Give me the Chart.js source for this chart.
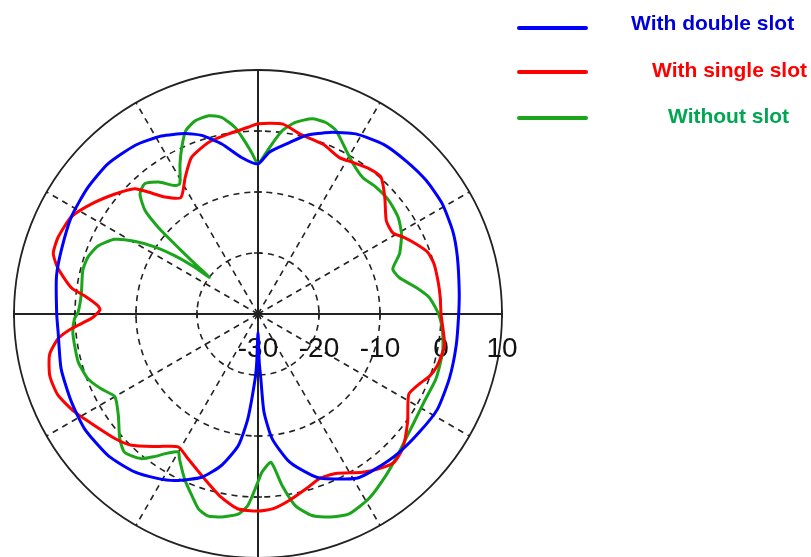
<!DOCTYPE html>
<html>
<head>
<meta charset="utf-8">
<script src="https://cdn.jsdelivr.net/npm/chart.js@4.4.1/dist/chart.umd.min.js"></script>
<style>
  html, body { margin: 0; padding: 0; background: #fff; overflow: hidden; }
  #wrap { position: absolute; left: 0; top: 0; width: 811px; height: 600px; }
  .key-line { position: absolute; left: 517px; width: 71px; height: 4px; border-radius: 2px; }
  .key-text { position: absolute; font: bold 21px "Liberation Sans", Arial, sans-serif; line-height: 21px; white-space: nowrap; }
</style>
</head>
<body>
<div id="wrap"><canvas id="pattern"></canvas></div>
<div id="legend"></div>
<script>
// radiation pattern, [angle in degrees clockwise from top, gain in dB]
var doubleSlot = [
  [0, -5.4], [4, -3.4], [10.5, -1.4], [15, 0.3], [21.5, 2.0], [28.5, 3.6], [36.5, 4.6],
  [44, 4.9], [51.5, 5.2], [59, 5.2], [67, 4.7], [74, 4.0], [83.5, 3.2], [90, 2.9],
  [99, 2.9], [108.5, 3.1], [118, 3.3], [126, 2.8], [134.5, 2.4], [142.5, 1.9], [149, 1.4],
  [158.5, -1.0], [161.5, -2.1], [168, -5.2], [173.5, -9.4], [176.5, -13.9], [177.5, -19.4],
  [178.5, -22.1], [180, -27], [181.5, -22.1], [182.5, -19.4], [185.5, -12.8], [188.5, -8.2],
  [193.5, -4.5], [199, -1.7], [206.5, 0.5], [211.5, 1.6], [218, 2.85], [226.5, 3.8],
  [236.5, 4.1], [245, 3.8], [254.5, 3.5], [265, 2.9], [270, 3.0], [280.5, 3.6], [288, 3.9],
  [297.5, 4.5], [306.5, 4.75], [315, 4.8], [324, 4.2], [331.5, 3.2], [338, 1.9],
  [342.5, 0.7], [348, -1.5], [354, -4.2]
];
var singleSlot = [
  [0, 1.2], [7.5, 1.4], [13, 0.3], [21, -0.2], [27.5, -1.1], [32, -0.7], [37.5, 0.0],
  [42, 0.15], [47.5, -1.8], [54, -4.0], [59, -4.2], [62, -3.1], [66, -1.7], [70, -0.4],
  [74, 0.0], [80, 0.0], [85, 0.0], [90, 0.0], [99.5, 1.0], [106, 0.6], [110, -0.1],
  [113.5, -1.2], [118, -2.0], [126, 0.3], [133, 2.4], [137.5, 3.0], [141, 2.4],
  [146.5, 1.1], [154, -0.9], [159.5, -1.2], [164.5, -0.3], [170.5, 1.0], [175.5, 2.0],
  [180, 2.3], [186, 2.1], [191.5, 0.6], [198, -1.6], [206, -3.7], [211, -4.6], [217, -2.8],
  [224, -0.1], [229, 1.1], [235.5, 2.4], [242, 4.1], [248, 5.4], [253.5, 5.6], [259, 4.8],
  [263, 3.0], [265.5, 0.7], [268.5, -2.7], [271.5, -4.1], [273, -3.7], [276, -1.4],
  [278, 0.9], [283, 3.7], [286.5, 5.0], [291, 5.1], [297.5, 4.5], [303.5, 2.7], [310, 0.6],
  [315.5, -1.2], [318, -3.1], [321.5, -5.5], [326.5, -7.1], [332, -4.6], [337, -2.1],
  [344, -0.7], [350.5, -0.1], [357, 0.65]
];
var noSlot = [
  [0, -5.4], [4, -2.6], [7.5, 0.3], [11, 2.0], [15.5, 3.2], [19.5, 3.3], [23, 2.7],
  [28.5, 0.4], [32.5, -0.9], [37.5, -1.8], [43, -1.6], [49, -1.6], [55.5, -2.1], [61, -3.1],
  [67, -4.8], [71.5, -6.7], [75.5, -6.1], [80.5, -3.7], [84.5, -1.8], [90, -0.4],
  [95.5, 0.4], [101.5, 0.9], [110, 1.05], [117, 0.8], [125.5, 1.2], [134.5, 2.4],
  [141.5, 3.75], [149, 5.3], [155.5, 6.0], [160.5, 5.3], [165, 4.2], [169, 2.0],
  [172, -1.6], [175, -5.6], [178.5, -4.1], [180, -2.5], [183, 1.4], [185.5, 2.9], [190, 3.8],
  [194, 4.1], [197, 3.4], [200, 1.7], [204, -0.4], [208.5, -3.0], [210, -3.9], [213, -2.8],
  [216, -1.1], [219, 0.5], [224, 1.5], [228, 0.5], [234, -1.7], [240, -2.9], [244.5, -1.5],
  [249, -0.2], [255, 0.5], [260.5, 0.5], [264.5, 0.5], [268.5, 0.1], [270.5, -0.5],
  [276.5, -0.85], [284, -0.4], [288.5, -0.6], [293, -1.5], [297.5, -3.5], [300.5, -6.5],
  [303, -9.8], [305, -13.3], [306.5, -17.1], [307, -20.0], [308.5, -16.8], [310, -12.2],
  [311, -8.3], [312.5, -4.9], [315.5, -2.4], [319, -1.7], [323, -2.9], [327, -4.9],
  [329, -5.1], [332.5, -2.3], [335.5, 0.1], [338.5, 2.3], [342, 3.3], [346, 3.5],
  [349.5, 2.8], [353, 0.8], [355.5, -1.5], [358, -3.75]
];

var seriesNames = ['With double slot', 'With single slot', 'Without slot'];
var lineColors = ['#0000ff', '#ff0000', '#1aa51a'];
var textColors = ['#0000d8', '#ff0000', '#00a651'];
var ringTicks = [-30, -20, -10, 0, 10];

var STEP = 0.5; // degrees per category
var nCat = 360 / STEP;
var angles = [];
for (var i = 0; i < nCat; i++) angles.push(i * STEP);

function toRadar(points) {
  var arr = new Array(nCat).fill(null);
  points.forEach(function(p) {
    arr[Math.round(p[0] / STEP) % nCat] = p[1];
  });
  return arr;
}

// tick labels and small axis ticks, drawn under the curves
var ringLabels = {
  id: 'ringLabels',
  beforeDatasetsDraw: function(chart) {
    var r = chart.scales.r, ctx = chart.ctx;
    ctx.save();
    ctx.strokeStyle = '#222';
    ctx.lineWidth = 1.5;
    ringTicks.forEach(function(v) {
      var d = r.getDistanceFromCenterForValue(v);
      if (d <= 0) return;
      ctx.beginPath();
      ctx.moveTo(r.xCenter + d, r.yCenter - 4); ctx.lineTo(r.xCenter + d, r.yCenter + 4);
      ctx.moveTo(r.xCenter - d, r.yCenter - 4); ctx.lineTo(r.xCenter - d, r.yCenter + 4);
      ctx.moveTo(r.xCenter - 4, r.yCenter + d); ctx.lineTo(r.xCenter + 4, r.yCenter + d);
      ctx.moveTo(r.xCenter - 4, r.yCenter - d); ctx.lineTo(r.xCenter + 4, r.yCenter - d);
      ctx.stroke();
    });
    ctx.fillStyle = '#111';
    ctx.font = '28px "Liberation Sans", Arial, sans-serif';
    ctx.textAlign = 'center';
    ctx.textBaseline = 'middle';
    ringTicks.forEach(function(v) {
      var d = r.getDistanceFromCenterForValue(v);
      ctx.fillText(String(v), r.xCenter + d, r.yCenter + 35);
    });
    ctx.restore();
  }
};

var chart = new Chart(document.getElementById('pattern'), {
  type: 'radar',
  data: {
    labels: angles,
    datasets: [
      { label: seriesNames[0], data: toRadar(doubleSlot), borderColor: lineColors[0] },
      { label: seriesNames[1], data: toRadar(singleSlot), borderColor: lineColors[1] },
      { label: seriesNames[2], data: toRadar(noSlot), borderColor: lineColors[2] }
    ]
  },
  options: {
    responsive: true,
    maintainAspectRatio: false,
    animation: false,
    spanGaps: true,
    layout: { padding: { left: 14, top: 70, right: 309, bottom: 42 } },
    elements: {
      line: { borderWidth: 3, fill: false, tension: 0.2, borderJoinStyle: 'round' },
      point: { radius: 0, hitRadius: 0, hoverRadius: 0 }
    },
    plugins: { legend: { display: false }, tooltip: { enabled: false } },
    scales: {
      r: {
        min: -30,
        max: 10,
        ticks: { display: false, stepSize: 10 },
        pointLabels: { display: false },
        grid: {
          circular: true,
          color: '#222',
          lineWidth: function(c) { return c.tick && c.tick.value === 10 ? 1.8 : 1.6; }
        },
        border: {
          dash: function(c) { return c.tick && c.tick.value === 10 ? [] : [6, 5]; }
        },
        angleLines: {
          color: '#222',
          lineWidth: function(c) {
            if (c.index % 180 === 0) return 2;
            return c.index % 60 === 0 ? 1.6 : 0;
          },
          borderDash: function(c) { return c.index % 180 === 0 ? [] : [6, 5]; }
        }
      }
    }
  },
  plugins: [ringLabels]
});

// legend on the right
var keyLineY = [28, 72, 118];
var keyTextPos = [[631, 12], [652, 59], [668, 105]];
var legend = document.getElementById('legend');
seriesNames.forEach(function(name, k) {
  var line = document.createElement('div');
  line.className = 'key-line';
  line.style.top = (keyLineY[k] - 2) + 'px';
  line.style.background = lineColors[k];
  legend.appendChild(line);
  var txt = document.createElement('div');
  txt.className = 'key-text';
  txt.style.left = keyTextPos[k][0] + 'px';
  txt.style.top = keyTextPos[k][1] + 'px';
  txt.style.color = textColors[k];
  txt.textContent = name;
  legend.appendChild(txt);
});
</script>
</body>
</html>
